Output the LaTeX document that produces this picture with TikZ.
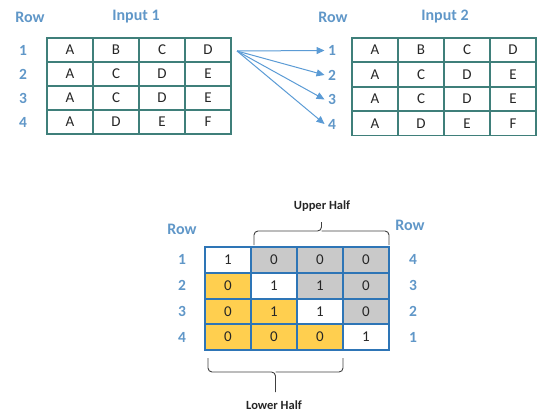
\documentclass[tikz,border=0pt]{standalone}
\usepackage{fontspec}
\setmainfont{Carlito}
\usetikzlibrary{arrows.meta}
\definecolor{lblue}{HTML}{5B9BD5}
\definecolor{tgreen}{HTML}{3F7F7A}
\definecolor{mblue}{HTML}{2E75B6}
\definecolor{myellow}{HTML}{FFCF4F}
\definecolor{mgray}{HTML}{C9C9C9}
\tikzset{
  hdr/.style={font=\fontsize{16}{16}\selectfont\bfseries, text=lblue!85!gray},
  rnum/.style={font=\fontsize{15.5}{15.5}\selectfont\bfseries, text=lblue!85!gray},
  cell/.style={draw=tgreen, line width=1.3pt, minimum width=46pt, minimum height=24pt, inner sep=0pt, font=\fontsize{15}{15}\selectfont, text=black!85},
  mcell/.style={draw=mblue, line width=2pt, minimum width=46pt, minimum height=25.75pt, inner sep=0pt, font=\fontsize{15}{15}\selectfont, text=black!85},
  arr/.style={draw=lblue, line width=1pt, -{Triangle[length=8pt,width=7pt]}},
  brace/.style={draw=black!75, line width=0.9pt, rounded corners=4pt},
  blabel/.style={font=\fontsize{12.5}{12.5}\selectfont\bfseries, text=black!85, inner sep=1pt}
}
\begin{document}
\begin{tikzpicture}[x=1pt,y=-1pt]
\useasboundingbox (0,0) rectangle (543,415);
% ---------- Input 1 ----------
\node[hdr] (row1h) at (30,17) {Row};
\node[hdr] (in1h) at (136,17) {Input 1};
\foreach \r/\a/\b/\c/\d [count=\i] in {1/A/B/C/D,2/A/C/D/E,3/A/C/D/E,4/A/D/E/F}{
  \node[rnum] (la\i) at (23,{26+24*\i}) {\r};
  \node[cell] (a\i1) at (70,{26+24*\i}) {\a};
  \node[cell] (a\i2) at (116,{26+24*\i}) {\b};
  \node[cell] (a\i3) at (162,{26+24*\i}) {\c};
  \node[cell] (a\i4) at (208,{26+24*\i}) {\d};
}
% ---------- Input 2 ----------
\node[hdr] (row2h) at (333,17) {Row};
\node[hdr] (in2h) at (445,17) {Input 2};
\foreach \r/\a/\b/\c/\d [count=\i] in {1/A/B/C/D,2/A/C/D/E,3/A/C/D/E,4/A/D/E/F}{
  \node[rnum] (lb\i) at (332,{26+24.5*\i}) {\r};
  \node[cell] (b\i1) at (375,{25.5+24.5*\i}) {\a};
  \node[cell] (b\i2) at (421,{25.5+24.5*\i}) {\b};
  \node[cell] (b\i3) at (467,{25.5+24.5*\i}) {\c};
  \node[cell] (b\i4) at (513,{25.5+24.5*\i}) {\d};
}
\coordinate (src) at (237,51);
\foreach \i in {1,2,3,4}{
  \draw[arr] (src) -- (lb\i.west);
}
% ---------- Matrix ----------
\node[hdr] (row3h) at (182,229) {Row};
\node[hdr] (row4h) at (410,225) {Row};
\foreach \r/\s [count=\i] in {1/4,2/3,3/2,4/1}{
  \node[rnum] (lc\i) at (182,{247+25.75*\i-12.9}) {\r};
  \node[rnum] (rc\i) at (413,{247+25.75*\i-12.9}) {\s};
}
\foreach \i/\j/\v/\f in {1/1/1/white,1/2/0/mgray,1/3/0/mgray,1/4/0/mgray,
                         2/1/0/myellow,2/2/1/white,2/3/1/mgray,2/4/0/mgray,
                         3/1/0/myellow,3/2/1/myellow,3/3/1/white,3/4/0/mgray,
                         4/1/0/myellow,4/2/0/myellow,4/3/0/myellow,4/4/1/white}{
  \node[mcell, fill=\f] (m\i\j) at ({205+46*\j-23},{247+25.75*\i-12.875}) {\v};
}
% braces
\coordinate (ua) at (254,245);
\coordinate (ub) at (389,245);
\draw[brace] (ua) -- (254,231) -- (321.5,231) -- (321.5,222);
\draw[brace] (ub) -- (389,231) -- (321.5,231);
\node[blabel] (uh) at (322,206) {Upper Half};
\coordinate (la) at (208,358);
\coordinate (lb) at (343,358);
\draw[brace] (la) -- (208,372) -- (275.5,372) -- (275.5,392);
\draw[brace] (lb) -- (343,372) -- (275.5,372);
\node[blabel] (lh) at (274,405.5) {Lower Half};
\end{tikzpicture}
\end{document}
